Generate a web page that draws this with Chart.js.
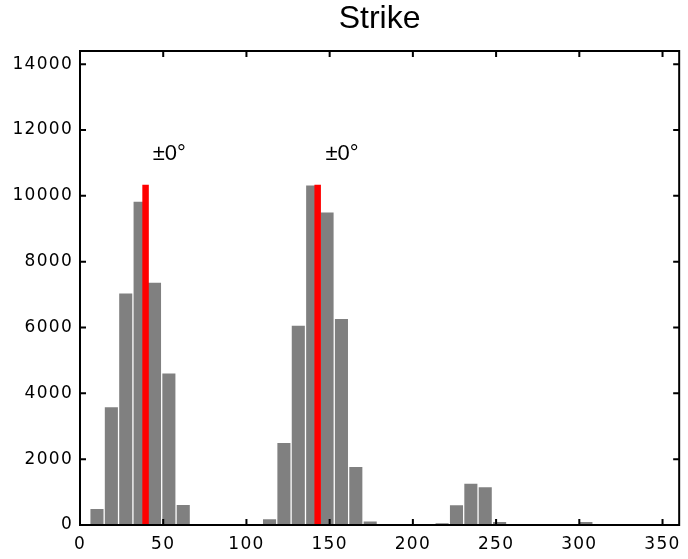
<!DOCTYPE html>
<html>
<head>
<meta charset="utf-8">
<title>Strike</title>
<script src="https://cdn.jsdelivr.net/npm/chart.js@4.4.1/dist/chart.umd.min.js"></script>
<style>
  html, body { margin: 0; padding: 0; background: #fff; }
  #wrap { width: 688px; height: 559px; }
</style>
</head>
<body>
<div id="wrap"><canvas id="chart"></canvas></div>
<script>
const titleText = 'Strike';

// histogram bins (bin centre in degrees) and counts
const binCenters = [10.20, 18.84, 27.48, 36.12, 44.76, 53.40, 62.04,
                    113.88, 122.52, 131.16, 139.80, 148.44, 157.08, 165.72, 174.36,
                    217.56, 226.20, 234.84, 243.48, 252.12,
                    303.96];
const counts = [485, 3575, 7030, 9818, 7363, 4606, 606,
                172, 2490, 6054, 10317, 9490, 6257, 1763, 106,
                50, 600, 1251, 1148, 91,
                90];

// red marker lines and their labels
const meanStrikes = [39.4, 142.8];
const meanLineTop = 10340;
const spreadLabels = ['±0°', '±0°'];
const spreadLabelX = [43.7, 147.5];
const spreadLabelY = 11080;

const xTicks = [0, 50, 100, 150, 200, 250, 300, 350];
const yTicks = [0, 2000, 4000, 6000, 8000, 10000, 12000, 14000];

const fontFamily = '"Liberation Sans", Arial, sans-serif';
const tickFamily = '"DejaVu Sans", sans-serif';

// matlab style box with inward ticks + text labels
const frame = {
    id: 'frame',
    beforeDraw(chart) {
        chart.ctx.letterSpacing = '0px';
    },
    afterDatasetsDraw(chart) {
        // tick labels are drawn after this (ticks have z: 1)
        chart.ctx.letterSpacing = '1.3px';
    },
    afterDraw(chart) {
        const { ctx, chartArea: a, scales: { x, y } } = chart;
        ctx.letterSpacing = '0px';
        ctx.save();
        ctx.strokeStyle = '#000';
        ctx.lineWidth = 2;
        ctx.beginPath();
        x.ticks.forEach(t => {
            const px = x.getPixelForValue(t.value);
            ctx.moveTo(px, a.bottom);
            ctx.lineTo(px, a.bottom - 6);
            ctx.moveTo(px, a.top);
            ctx.lineTo(px, a.top + 6);
        });
        y.ticks.forEach(t => {
            const py = y.getPixelForValue(t.value);
            ctx.moveTo(a.left, py);
            ctx.lineTo(a.left + 6, py);
            ctx.moveTo(a.right, py);
            ctx.lineTo(a.right - 6, py);
        });
        ctx.stroke();
        ctx.strokeRect(a.left, a.top, a.right - a.left, a.bottom - a.top);

        ctx.fillStyle = '#000';
        ctx.font = '22px ' + fontFamily;
        ctx.textAlign = 'left';
        ctx.textBaseline = 'alphabetic';
        spreadLabels.forEach((s, i) => {
            ctx.fillText(s, x.getPixelForValue(spreadLabelX[i]), y.getPixelForValue(spreadLabelY));
        });
        ctx.restore();
    }
};

const datasets = [{
    type: 'bar',
    data: binCenters.map((c, i) => ({ x: c, y: counts[i] })),
    backgroundColor: '#808080',
    borderWidth: 0,
    barPercentage: 0.91,
    categoryPercentage: 1,
    order: 2
}];

meanStrikes.forEach(m => {
    datasets.push({
        type: 'line',
        data: [{ x: m, y: 0 }, { x: m, y: meanLineTop }],
        borderColor: '#ff0000',
        borderWidth: 6.5,
        borderCapStyle: 'butt',
        pointRadius: 0,
        order: 1
    });
});

const tickFont = { family: tickFamily, size: 17 };

new Chart(document.getElementById('chart'), {
    type: 'bar',
    data: { datasets },
    options: {
        responsive: true,
        maintainAspectRatio: false,
        animation: false,
        layout: { padding: { left: 0, right: 4, top: 0, bottom: 0 } },
        plugins: {
            legend: { display: false },
            tooltip: { enabled: false },
            title: {
                display: true,
                text: titleText,
                fullSize: false,
                color: '#000',
                font: { family: fontFamily, size: 32, weight: 'normal', lineHeight: 1 },
                padding: { top: 3, bottom: 16 }
            }
        },
        scales: {
            x: {
                type: 'linear',
                min: 0,
                max: 360,
                offset: false,
                grid: { display: false, drawTicks: false, offset: false },
                border: { display: false },
                ticks: {
                    z: 1,
                    font: tickFont,
                    color: '#000',
                    padding: 9,
                    maxRotation: 0,
                    autoSkip: false,
                    callback: v => String(v)
                },
                afterBuildTicks: s => { s.ticks = xTicks.map(v => ({ value: v })); },
                afterFit: s => { s.height = 34; }
            },
            y: {
                type: 'linear',
                min: 0,
                max: 14400,
                grid: { display: false, drawTicks: false },
                border: { display: false },
                ticks: {
                    z: 1,
                    font: tickFont,
                    color: '#000',
                    padding: 7,
                    autoSkip: false,
                    callback: v => String(v)
                },
                afterBuildTicks: s => { s.ticks = yTicks.map(v => ({ value: v })); },
                afterFit: s => { s.width = 80; }
            }
        }
    },
    plugins: [frame]
});
</script>
</body>
</html>
